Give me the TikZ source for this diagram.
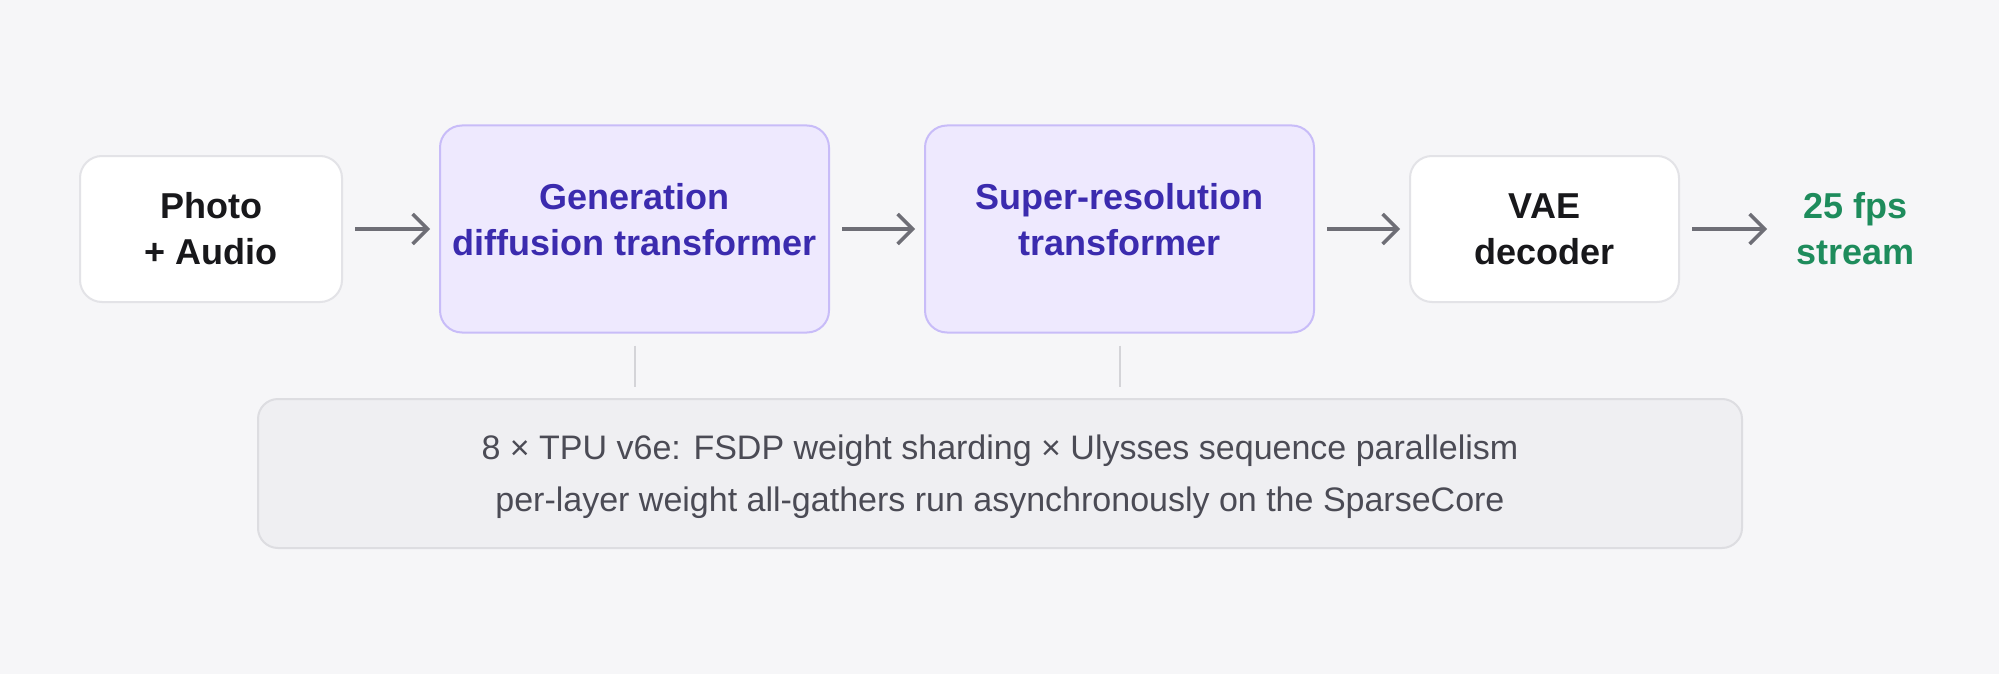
\documentclass[tikz,border=0pt]{standalone}
\usepackage{fontspec}
\setmainfont{Liberation Sans}
\usetikzlibrary{arrows.meta}
\usetikzlibrary{positioning}
\definecolor{bgcol}{HTML}{F6F6F8}
\definecolor{plainline}{HTML}{E3E3E7}
\definecolor{inkcol}{HTML}{18181B}
\definecolor{tfmfill}{HTML}{EEE9FE}
\definecolor{tfmline}{HTML}{C8BCF8}
\definecolor{tfmtext}{HTML}{3B2BAE}
\definecolor{arrowcol}{HTML}{6E6E76}
\definecolor{outcol}{HTML}{1E8C5C}
\definecolor{hwfill}{HTML}{EFEFF2}
\definecolor{hwline}{HTML}{DDDDE1}
\definecolor{hwtext}{HTML}{4B4B55}
\definecolor{tiecol}{HTML}{D4D4D8}

\begin{document}
\begin{tikzpicture}[x=1pt,y=-1pt,>={Straight Barb[length=15pt,width=30pt]},
	box/.style={draw=plainline,fill=white,rounded corners=22pt,line width=2pt,minimum width=262pt,minimum height=146pt,align=center,text=inkcol,font=\fontsize{36}{46}\selectfont\bfseries},
	tfm/.style={box,draw=tfmline,fill=tfmfill,text=tfmtext,minimum width=389pt,minimum height=207pt,text depth=20pt},
	flow/.style={->,draw=arrowcol,line width=3.5pt,shorten <=12pt,shorten >=9pt},
	tie/.style={draw=tiecol,line width=2pt,shorten <=12pt,shorten >=11pt}]
		\useasboundingbox (0,0) rectangle (1999,674);
		\fill[bgcol] (0,0) rectangle (1999,674);
		% pipeline row
		\node[box] (photo) at (211,229) {Photo\\+ Audio};
		\node[tfm,right=96pt of photo] (gen) {Generation\\diffusion transformer};
		\node[tfm,right=94pt of gen] (sr) {Super-resolution\\transformer};
		\node[box,minimum width=269pt,right=94pt of sr] (vae) {VAE\\decoder};
		\node[align=center,inner sep=0pt,text=outcol,font=\fontsize{36}{46}\selectfont\bfseries,right=116pt of vae] (out) {25 fps\\stream};
		\draw[flow] (photo) -- (gen);
		\draw[flow] (gen) -- (sr);
		\draw[flow] (sr) -- (vae);
		\draw[flow,shorten >=29pt] (vae) -- (out);
		% hardware box
		\node[draw=hwline,fill=hwfill,rounded corners=20pt,line width=2pt,minimum width=1484pt,minimum height=149pt,align=center,text=hwtext,font=\fontsize{34}{52}\selectfont,text height=75pt,text depth=0pt] (hw) at (1000,473.5) {8 × TPU v6e: FSDP weight sharding × Ulysses sequence parallelism\\per-layer weight all-gathers run asynchronously on the SparseCore};
		\draw[tie] (gen.south) -- (gen.south |- hw.north);
		\draw[tie] (sr.south) -- (sr.south |- hw.north);
	\end{tikzpicture}
\end{document}
